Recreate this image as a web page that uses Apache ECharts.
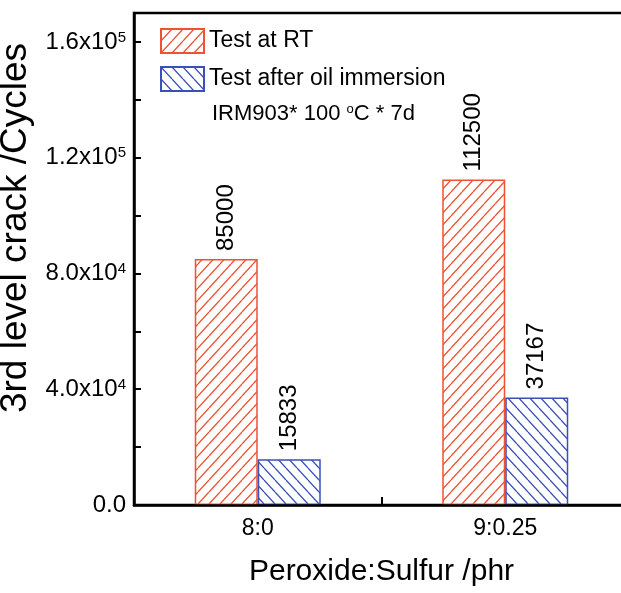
<!DOCTYPE html>
<html><head><meta charset="utf-8">
<script src="https://cdn.jsdelivr.net/npm/echarts@6/dist/echarts.min.js"></script>
<style>html,body{margin:0;padding:0;background:#fff}#c{width:621px;height:593px}</style>
</head><body><div id="c"></div>
<script>
const categories = ['8:0', '9:0.25'];
const seriesNames = ['Test at RT', 'Test after oil immersion'];
const rtValues = [85000, 112500];
const oilValues = [15833, 37167];
const yTickValues = [0, 40000, 80000, 120000, 160000];
const yTickLabels = ['0.0', '4.0x10^4', '8.0x10^4', '1.2x10^5', '1.6x10^5'];
const noteParts = ['IRM903* 100 ', 'o', 'C * 7d'];
const xName = 'Peroxide:Sulfur /phr';
const yName = '3rd level crack /Cycles';

const RED = '#ee5233', BLUE = '#3b4fb8';

function hatch(color, dir) {
  const w = 11, h = 12;
  const c = document.createElement('canvas');
  c.width = w; c.height = h;
  const ctx = c.getContext('2d');
  ctx.fillStyle = '#fff'; ctx.fillRect(0, 0, w, h);
  ctx.strokeStyle = color; ctx.lineWidth = 1.3;
  ctx.beginPath();
  for (let k = -1; k <= 1; k++) {
    if (dir === '/') { ctx.moveTo(k * w, h); ctx.lineTo((k + 1) * w, 0); }
    else { ctx.moveTo(k * w, 0); ctx.lineTo((k + 1) * w, h); }
  }
  ctx.stroke();
  return { image: c, repeat: 'repeat' };
}

const chart = echarts.init(document.getElementById('c'), null, { renderer: 'canvas' });
const font = 'Liberation Sans, Arial, sans-serif';

const labelCfg = {
  show: true, position: 'top', rotate: 90, align: 'left', verticalAlign: 'middle',
  distance: 8, fontSize: 24, color: '#000', fontFamily: font
};

chart.setOption({
  animation: false,
  textStyle: { fontFamily: font },
  grid: {
    left: 134, top: 13, width: 495, height: 492, show: true, borderColor: '#000', borderWidth: 2.5,
    containLabel: false, outerBoundsMode: 'none'
  },
  title: {
    left: 212, top: 103, padding: 0,
    text: '{a|' + noteParts[0] + '}{o|' + noteParts[1] + '}{a|' + noteParts[2] + '}',
    textStyle: {
      fontWeight: 'normal',
      rich: {
        a: { fontSize: 22, color: '#000', fontWeight: 'normal', fontFamily: font },
        o: { fontSize: 13, color: '#000', fontWeight: 'normal', verticalAlign: 'top', fontFamily: font }
      }
    }
  },
  legend: {
    orient: 'vertical', left: 155, top: 23, itemWidth: 43, itemHeight: 24, itemGap: 12,
    icon: 'rect',
    textStyle: { fontSize: 23, color: '#000', fontFamily: font },
    data: seriesNames
  },
  xAxis: {
    type: 'category', data: categories, position: 'bottom', boundaryGap: true,
    axisLine: { show: true, lineStyle: { color: '#000', width: 2.5 } },
    axisTick: { show: true, interval: 0, alignWithLabel: false, inside: true, length: 8, lineStyle: { color: '#000', width: 2 } },
    axisLabel: { fontSize: 23, color: '#000', margin: 12, fontFamily: font },
    name: xName, nameLocation: 'middle', nameGap: 52,
    nameTextStyle: { fontSize: 30, color: '#000', fontFamily: font },
    z: 10
  },
  yAxis: {
    type: 'value', min: 0, max: 170000, interval: 20000,
    axisLine: { show: true, lineStyle: { color: '#000', width: 2.5 } },
    axisTick: { show: true, inside: true, length: 7, lineStyle: { color: '#000', width: 2 } },
    splitLine: { show: false },
    axisLabel: {
      margin: 8, color: '#000',
      formatter: function (v) {
        const i = yTickValues.indexOf(v);
        if (i < 0) return '';
        const parts = yTickLabels[i].split('^');
        return parts.length > 1 ? '{m|' + parts[0] + '}{s|' + parts[1] + '}' : '{m|' + parts[0] + '}';
      },
      rich: {
        m: { fontSize: 24, color: '#000', fontFamily: font },
        s: { fontSize: 15, color: '#000', verticalAlign: 'top', fontFamily: font }
      }
    },
    name: yName, nameLocation: 'middle', nameGap: 90,
    nameTextStyle: { fontSize: 37, color: '#000', fontFamily: font, padding: [0, 0, 0, 62] }
  },
  series: [{
    name: seriesNames[0], type: 'bar', data: rtValues,
    barWidth: 63, barGap: '0%',
    itemStyle: { color: hatch(RED, '/'), borderColor: RED, borderWidth: 1.5 },
    label: labelCfg
  }, {
    name: seriesNames[1], type: 'bar', data: oilValues,
    barWidth: 63, barGap: '0%',
    itemStyle: { color: hatch(BLUE, '\\'), borderColor: BLUE, borderWidth: 1.5 },
    label: labelCfg
  }]
});
</script>
</body></html>
